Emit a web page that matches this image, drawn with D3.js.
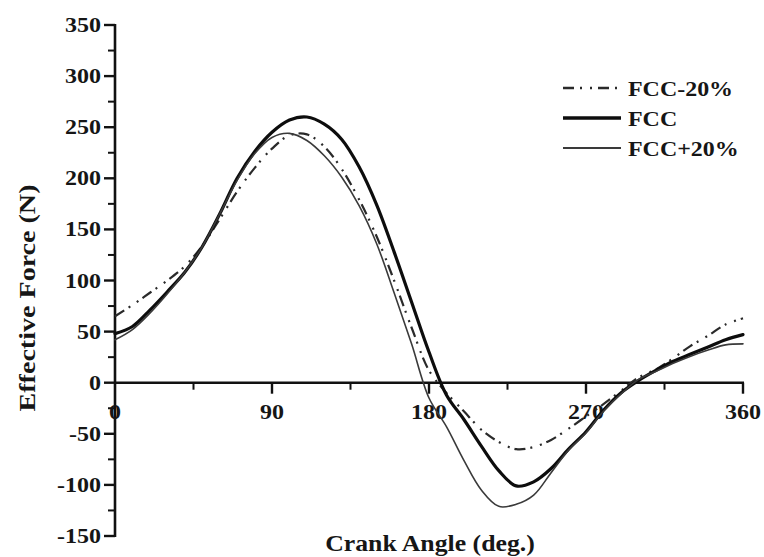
<!DOCTYPE html>
<html>
<head>
<meta charset="utf-8">
<script src="https://cdn.jsdelivr.net/npm/d3@7"></script>
<style>
  html, body { margin: 0; padding: 0; background: #fff; }
  svg { display: block; }
  text { font-family: "Liberation Serif", "Times New Roman", serif; font-weight: bold; fill: #161616; }
</style>
</head>
<body>
<svg id="chart" width="764" height="557"></svg>
<script>
// ---- data ----
const angles = [0,10,20,30,40,50,60,70,80,90,100,110,120,130,140,150,160,170,180,
                190,200,210,220,230,240,250,260,270,280,290,300,310,320,330,340,350,360];
const fccMinus20 = [65,76,88,100,114,134,160,187,210,229,242,243,231,209,179,143,100,54,12,
                    -10,-28,-46,-58,-65,-63,-56,-45,-33,-21,-8,5,13,24,36,46,57,63];
const fcc        = [48,55,71,89,108,133,165,200,226,245,257,260,253,238,211,174,128,79,30,
                    -12,-36,-62,-86,-101,-97,-84,-65,-48,-27,-10,2,12,21,28,35,42,47];
const fccPlus20  = [42,52,68,87,108,133,165,198,224,240,244,237,222,201,173,136,88,38,-15,
                    -43,-76,-105,-121,-119,-110,-88,-66,-49,-28,-11,3,11,19,26,32,37,38];
const seriesNames = ["FCC-20%", "FCC", "FCC+20%"];
const xTickValues = [0, 90, 180, 270, 360];
const xMinorTicks = [45, 135, 225, 315];
const yTickValues = [-150,-100,-50,0,50,100,150,200,250,300,350];
const yMinorTicks = [-125,-75,-25,25,75,125,175,225,275,325];
const xTitle = "Crank Angle (deg.)";
const yTitle = "Effective Force (N)";

// ---- chart ----
const svg = d3.select("#chart");
const x = d3.scaleLinear().domain([0, 360]).range([115, 743]);
const y = d3.scaleLinear().domain([-150, 350]).range([536, 25]);

function stretch(sel, f) {
  sel.each(function () {
    const len = this.getComputedTextLength();
    d3.select(this).attr("textLength", len * f).attr("lengthAdjust", "spacingAndGlyphs");
  });
}

const styles = [
  { stroke: "#2a2a2a", width: 2.2, dash: "11,5,2,8,2,5" },
  { stroke: "#0d0d0d", width: 3.2, dash: null },
  { stroke: "#3a3a3a", width: 1.6, dash: null }
];
const data = [fccMinus20, fcc, fccPlus20];

const line = d3.line()
  .x((d, i) => x(angles[i]))
  .y(d => y(d))
  .curve(d3.curveCatmullRom.alpha(0.5));

const axisColor = "#111";
// y axis
svg.append("line").attr("x1", x(0)).attr("x2", x(0)).attr("y1", y(350) - 1).attr("y2", y(-150) + 1)
  .attr("stroke", axisColor).attr("stroke-width", 2.6);
svg.selectAll(".ytick").data(yTickValues).enter().append("line")
  .attr("x1", x(0) - 11).attr("x2", x(0)).attr("y1", d => y(d)).attr("y2", d => y(d))
  .attr("stroke", axisColor).attr("stroke-width", 2.4);
svg.selectAll(".ymin").data(yMinorTicks).enter().append("line")
  .attr("x1", x(0) - 7).attr("x2", x(0)).attr("y1", d => y(d)).attr("y2", d => y(d))
  .attr("stroke", axisColor).attr("stroke-width", 2);
const yLabels = svg.selectAll(".ylab").data(yTickValues).enter().append("text")
  .attr("x", 101).attr("y", d => y(d) + 7).attr("text-anchor", "end")
  .attr("font-size", 20).text(d => d);
stretch(yLabels, 1.2);

// x axis at y=0
svg.append("line").attr("x1", x(0)).attr("x2", x(360) + 1).attr("y1", y(0)).attr("y2", y(0))
  .attr("stroke", axisColor).attr("stroke-width", 2.6);
svg.selectAll(".xtick").data(xTickValues.filter(d => d > 0)).enter().append("line")
  .attr("x1", d => x(d)).attr("x2", d => x(d)).attr("y1", y(0)).attr("y2", y(0) + 11)
  .attr("stroke", axisColor).attr("stroke-width", 2.4);
svg.selectAll(".xmin").data(xMinorTicks).enter().append("line")
  .attr("x1", d => x(d)).attr("x2", d => x(d)).attr("y1", y(0)).attr("y2", y(0) + 7)
  .attr("stroke", axisColor).attr("stroke-width", 2);
const xLabels = svg.selectAll(".xlab").data(xTickValues).enter().append("text")
  .attr("x", d => x(d)).attr("y", y(0) + 36).attr("text-anchor", "middle")
  .attr("font-size", 20).text(d => d);
stretch(xLabels, 1.2);

// series
data.forEach((vals, i) => {
  const p = svg.append("path").datum(vals)
    .attr("d", line).attr("fill", "none")
    .attr("stroke", styles[i].stroke).attr("stroke-width", styles[i].width)
    .attr("stroke-linejoin", "round").attr("stroke-linecap", "round");
  if (styles[i].dash) p.attr("stroke-dasharray", styles[i].dash).attr("stroke-linecap", "butt");
});

// legend
const legendY = [88, 118, 148];
seriesNames.forEach((name, i) => {
  const l = svg.append("line").attr("x1", 563).attr("x2", 621)
    .attr("y1", legendY[i]).attr("y2", legendY[i])
    .attr("stroke", styles[i].stroke).attr("stroke-width", styles[i].width + 0.4);
  if (styles[i].dash) l.attr("stroke-dasharray", "11,6,2,8,2,6");
  const t = svg.append("text").attr("x", 628).attr("y", legendY[i] + 8)
    .attr("font-size", 21).text(name);
  stretch(t, 1.14);
});

// titles
const xt = svg.append("text").attr("x", 430).attr("y", 551).attr("text-anchor", "middle")
  .attr("font-size", 23).text(xTitle);
stretch(xt, 1.12);
const yt = svg.append("text").attr("transform", "translate(35,298) rotate(-90)")
  .attr("text-anchor", "middle").attr("font-size", 23).text(yTitle);
stretch(yt, 1.22);
</script>
</body>
</html>
